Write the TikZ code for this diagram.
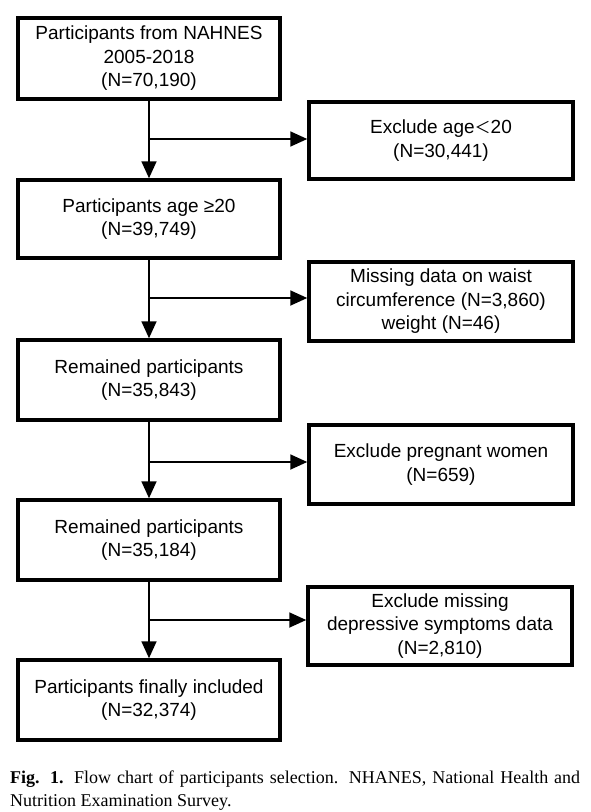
\documentclass[tikz,border=0pt]{standalone}
\usepackage{fontspec}
\setmainfont{Liberation Sans}
\newfontfamily\capfont{Liberation Serif}
\newfontfamily\cjk{Noto Sans CJK SC}
\usetikzlibrary{arrows.meta}
\begin{document}
\begin{tikzpicture}[x=1pt,y=-1pt,
    mainbox/.style={draw,line width=3.5pt,minimum width=262pt,align=center,
      inner sep=0pt,font=\fontsize{19}{23.5}\selectfont},
    sidebox/.style={mainbox,minimum width=264pt},
    flow/.style={line width=1.8pt,-{Triangle[length=17pt,width=15pt]}},
    capline/.style={anchor=base west,inner sep=0pt,font=\capfont\fontsize{18}{23}\selectfont}]
  \useasboundingbox (0,0) rectangle (590,812);
  % main column
  \node[mainbox,minimum height=81pt] (start) at (149,58.5)
    {Participants from NAHNES\\2005-2018\\(N=70,190)};
  \node[mainbox,minimum height=78pt] (adult) at (149,219)
    {Participants age ≥20\\(N=39,749)};
  \node[mainbox,minimum height=80pt] (remain1) at (149,380)
    {Remained participants\\(N=35,843)};
  \node[mainbox,minimum height=80pt] (remain2) at (149,540)
    {Remained participants\\(N=35,184)};
  \node[mainbox,minimum height=80pt] (final) at (149,700)
    {Participants finally included\\(N=32,374)};
  % exclusions
  \node[sidebox,minimum height=77pt] (exage) at (441,140.5)
    {Exclude age{\cjk\fontsize{16}{16}\selectfont ＜}20\\(N=30,441)};
  \node[sidebox,minimum height=79pt] (exwaist) at (441,301.5)
    {Missing data on waist\\circumference (N=3,860)\\weight (N=46)};
  \node[sidebox,minimum height=79pt] (expreg) at (441,464.5)
    {Exclude pregnant women\\(N=659)};
  \node[sidebox,minimum height=78pt] (exdep) at (440,626)
    {Exclude missing\\depressive symptoms data\\(N=2,810)};
  % arrows
  \foreach \a/\b in {start/adult,adult/remain1,remain1/remain2,remain2/final}
    \draw[flow] (\a.south) -- (\b.north);
  \foreach \a/\b/\y in {start/exage/139,adult/exwaist/298,remain1/expreg/462,remain2/exdep/620}{
    \coordinate (\b-split) at (\a.south |- 0,\y);
    \draw[flow] (\b-split) -- (\b.west |- \b-split);
  }
  % caption
  \node[capline] (cap1) at (10,783)
    {\makebox[570pt][s]{\textbf{Fig. 1.} Flow chart of participants selection. NHANES, National Health and}};
  \node[capline] (cap2) at (10,806) {Nutrition Examination Survey.};
\end{tikzpicture}
\end{document}
